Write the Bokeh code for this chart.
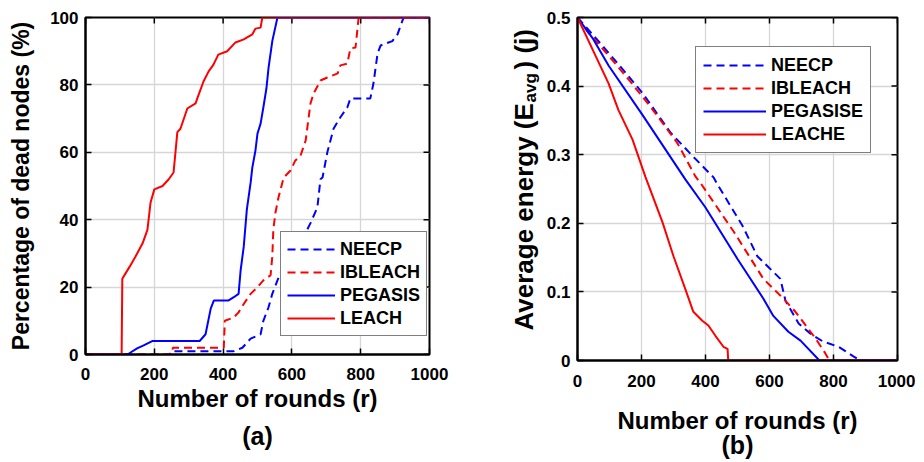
import math
from bokeh.plotting import figure
from bokeh.layouts import row
from bokeh.models import (Range1d, FixedTicker, Legend, LegendItem, Label, Title)
from bokeh.embed import file_html
from bokeh.resources import INLINE

# ---------------- data ----------------
rounds_ticks = [0, 200, 400, 600, 800, 1000]
dead_ticks = [0, 20, 40, 60, 80, 100]
energy_ticks = [0, 0.1, 0.2, 0.3, 0.4, 0.5]
energy_tick_labels = ["0", "0.1", "0.2", "0.3", "0.4", "0.5"]

# (a) Percentage of dead nodes
a_neecp_x = [0, 245, 250, 431, 456, 480, 509, 517, 532, 543, 558, 580, 620, 654, 674, 683, 689,
             703, 721, 741, 761, 770, 828, 837, 849, 858, 892, 907, 921, 925, 1000]
a_neecp_y = [0, 0, 1, 1, 2, 4.7, 6, 10, 14, 18, 22, 27, 32, 39, 43.6, 52, 52.5,
             60, 67, 70.4, 73.3, 76, 76, 80.4, 89.3, 91.7, 93, 95, 99, 100, 100]

a_ibleach_x = [0, 250, 254, 402, 405, 431, 445, 460, 480, 500, 517, 538, 543, 546, 552, 561, 576,
               596, 610, 625, 640, 654, 663, 683, 703, 733, 741, 761, 770, 785, 794, 1000]
a_ibleach_y = [0, 0, 2, 2, 10, 11, 12.5, 15, 18, 20, 22, 23.5, 29, 37, 42, 46.6, 52.5,
               54.6, 57.6, 59, 63.5, 74.5, 77.4, 81.3, 82.2, 83.4, 85.8, 86.3, 90.8, 91.1, 100, 100]

a_pegasis_x = [0, 122, 131, 150, 169, 194, 332, 349, 364, 373, 415, 431, 445, 451, 460, 469, 480,
               485, 494, 500, 509, 517, 526, 532, 543, 558, 1000]
a_pegasis_y = [0, 0, 0.6, 1.8, 2.7, 4, 4, 6, 13.6, 16, 16, 17, 18, 25, 32, 43, 51,
               55.5, 60.5, 65.6, 68.5, 73.3, 79, 85, 93, 100, 100]

a_leach_x = [0, 105, 107, 116, 128, 145, 166, 180, 189, 200, 224, 242, 256, 267, 276, 296, 320,
             325, 343, 358, 372, 386, 412, 436, 460, 485, 494, 509, 514, 1000]
a_leach_y = [0, 0, 22.5, 24, 26, 29, 33, 37, 45, 49, 50, 52, 54, 66, 67, 73, 74.5,
             76, 81, 84, 86, 89, 90, 92.6, 93.5, 95, 96.7, 97, 100, 100]

# (b) Average energy
b_neecp_x = [0, 72, 144, 203, 291, 362, 425, 437, 516, 562, 597, 634, 650, 691, 728, 766, 816,
             862, 884, 1000]
b_neecp_y = [0.5, 0.462, 0.423, 0.39, 0.332, 0.297, 0.267, 0.257, 0.196, 0.152, 0.136, 0.119,
             0.087, 0.054, 0.039, 0.028, 0.02, 0.006, 0, 0]

b_ibleach_x = [0, 34, 109, 166, 228, 312, 369, 384, 488, 581, 644, 681, 744, 775, 787, 1000]
b_ibleach_y = [0.5, 0.478, 0.438, 0.406, 0.37, 0.317, 0.268, 0.259, 0.188, 0.119, 0.09, 0.071,
               0.032, 0.01, 0, 0]

b_pegasise_x = [0, 47, 97, 203, 337, 400, 500, 581, 612, 659, 697, 756, 1000]
b_pegasise_y = [0.5, 0.47, 0.43, 0.358, 0.264, 0.223, 0.148, 0.09, 0.065, 0.042, 0.029, 0, 0]

b_leache_x = [0, 97, 128, 172, 212, 266, 300, 337, 362, 390, 409, 431, 456, 469, 471, 1000]
b_leache_y = [0.5, 0.404, 0.365, 0.322, 0.268, 0.201, 0.152, 0.104, 0.071, 0.058, 0.051, 0.036,
              0.02, 0.017, 0, 0]

# ---------------- styling ----------------
FONT = "Liberation Sans"
BLUE = "#0000ff"
RED = "#ff0000"
DASH = "8 5"
LW = 2
TOP = 17
BOTTOM = 102
TICK_PX = 6
FH_A = 337
FH_B = 343


def style_axis(ax, ticks, standoff):
    ax.ticker = FixedTicker(ticks=ticks)
    ax.axis_line_width = 2
    ax.axis_line_color = "black"
    ax.major_tick_in = TICK_PX
    ax.major_tick_out = 0
    ax.major_tick_line_width = 1.5
    ax.major_tick_line_color = "black"
    ax.minor_tick_in = 0
    ax.minor_tick_out = 0
    ax.major_label_standoff = standoff
    ax.major_label_text_font = FONT
    ax.major_label_text_font_style = "bold"
    ax.major_label_text_color = "black"
    ax.major_label_text_font_size = "17px"
    ax.axis_label_text_font = FONT
    ax.axis_label_text_font_style = "bold"
    ax.axis_label_text_color = "black"


def make_fig(w, fw, fh, y_end, yticks, mbl, mbr, xlabel, ylabel, tag,
             tick_standoff, xlab_standoff, tag_standoff):
    p = figure(width=w, height=TOP + fh + BOTTOM,
               x_range=Range1d(0, 1000), y_range=Range1d(0, y_end),
               output_backend="svg", toolbar_location=None,
               min_border_left=mbl, min_border_right=mbr,
               min_border_top=TOP, min_border_bottom=BOTTOM,
               background_fill_color="white", border_fill_color="white")
    p.outline_line_color = "black"
    p.outline_line_width = 2
    style_axis(p.xaxis[0], rounds_ticks, tick_standoff)
    style_axis(p.yaxis[0], yticks, 7)
    p.xaxis[0].axis_label = xlabel
    p.xaxis[0].axis_label_text_font_size = "24px"
    p.xaxis[0].axis_label_standoff = xlab_standoff
    if ylabel:
        p.yaxis[0].axis_label = ylabel
        p.yaxis[0].axis_label_text_font_size = "23px"
        p.yaxis[0].axis_label_standoff = 13
    p.xgrid.ticker = FixedTicker(ticks=rounds_ticks)
    p.ygrid.ticker = FixedTicker(ticks=yticks)
    for g in (p.xgrid, p.ygrid):
        g.grid_line_color = "#d6d6d6"
        g.grid_line_width = 1.3
    # inward tick marks on the top and right edges (box style), from the tick lists
    dx = TICK_PX * 1000 / fw
    dy = TICK_PX * y_end / fh
    p.segment(x0=rounds_ticks, y0=[y_end] * len(rounds_ticks),
              x1=rounds_ticks, y1=[y_end - dy] * len(rounds_ticks),
              line_color="black", line_width=1.5)
    p.segment(x0=[1000] * len(yticks), y0=yticks, x1=[1000 - dx] * len(yticks), y1=yticks,
              line_color="black", line_width=1.5)
    p.add_layout(Title(text=tag, align="center", text_font=FONT, text_font_size="25px",
                       text_font_style="bold", text_color="black", standoff=tag_standoff),
                 "below")
    return p


def make_legend(p, rends, names, loc, glyph_w, pad):
    leg = Legend(items=[LegendItem(label=n, renderers=[r]) for n, r in zip(names, rends)],
                 location=loc)
    leg.label_text_font = FONT
    leg.label_text_font_size = "18px"
    leg.label_text_font_style = "bold"
    leg.label_text_color = "black"
    leg.glyph_width = glyph_w
    leg.glyph_height = 22
    leg.label_height = 22
    leg.spacing = 1
    leg.padding = pad
    leg.label_standoff = 5
    leg.margin = 0
    leg.border_line_color = "black"
    leg.border_line_width = 1.5
    leg.background_fill_color = "white"
    leg.background_fill_alpha = 1
    p.add_layout(leg)


# ---------------- (a) ----------------
pa = make_fig(449, 344, FH_A, 100, dead_ticks, 85, 20,
              "Number of rounds (r)", "Percentage of dead nodes (%)", "(a)", 13, 2, 11)
ra1 = pa.line(a_neecp_x, a_neecp_y, line_color=BLUE, line_width=LW, line_dash=DASH)
ra2 = pa.line(a_ibleach_x, a_ibleach_y, line_color=RED, line_width=LW, line_dash=DASH)
ra3 = pa.line(a_pegasis_x, a_pegasis_y, line_color=BLUE, line_width=LW)
ra4 = pa.line(a_leach_x, a_leach_y, line_color=RED, line_width=LW)
make_legend(pa, [ra1, ra2, ra3, ra4], ["NEECP", "IBLEACH", "PEGASIS", "LEACH"], (195, 18), 48, 6)

# ---------------- y label of (b), with subscript ----------------
pl = figure(width=94, height=TOP + FH_B + BOTTOM, x_range=Range1d(0, 1), y_range=Range1d(0, 1),
            x_axis_type=None, y_axis_type=None, output_backend="svg",
            toolbar_location=None, min_border_left=0, min_border_right=0,
            min_border_top=TOP, min_border_bottom=BOTTOM, outline_line_color=None,
            border_fill_color="white", background_fill_color="white")
ylab_parts = [("Average energy (E", "26px", 0, 30),
              ("avg", "17px", 7, 258),
              (") (j)", "26px", 0, 291)]
for txt, fs, dxl, yy in ylab_parts:
    pl.add_layout(Label(x=74 + dxl, y=yy, x_units="screen", y_units="screen", text=txt,
                        angle=math.pi / 2, text_font=FONT, text_font_size=fs,
                        text_font_style="bold", text_color="black",
                        text_align="left", text_baseline="middle"))

# ---------------- (b) ----------------
pb = make_fig(372, 320, FH_B, 0.5, energy_ticks, 34, 18,
              "Number of rounds (r)", None, "(b)", 14, 17, -15)
pb.yaxis[0].major_label_overrides = dict(zip(energy_ticks, energy_tick_labels))
rb1 = pb.line(b_neecp_x, b_neecp_y, line_color=BLUE, line_width=LW, line_dash=DASH)
rb2 = pb.line(b_ibleach_x, b_ibleach_y, line_color=RED, line_width=LW, line_dash=DASH)
rb3 = pb.line(b_pegasise_x, b_pegasise_y, line_color=BLUE, line_width=LW)
rb4 = pb.line(b_leache_x, b_leache_y, line_color=RED, line_width=LW)
make_legend(pb, [rb1, rb2, rb3, rb4], ["NEECP", "IBLEACH", "PEGASISE", "LEACHE"], (118, 207), 63, 7)

layout = row(pa, pl, pb)
open("out.html", "w").write(file_html(layout, INLINE))
